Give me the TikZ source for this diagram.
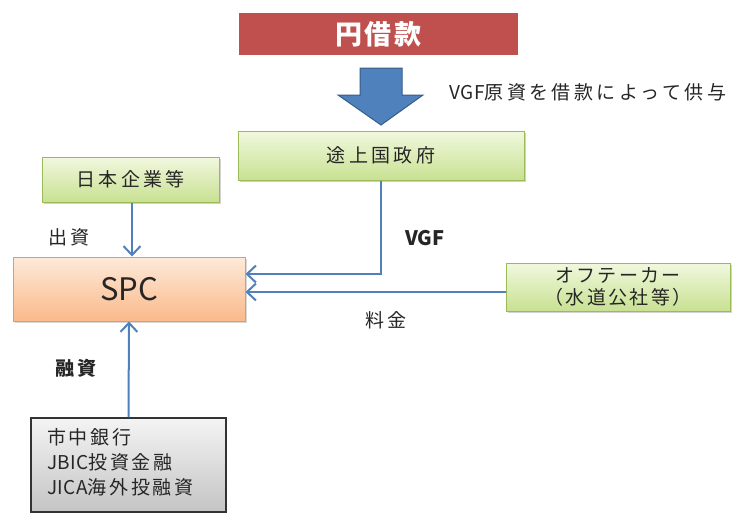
\documentclass[tikz,border=0pt]{standalone}
\usepackage{fontspec}
\setmainfont{Noto Sans CJK JP}
\usetikzlibrary{arrows.meta,shadows,calc}
\newcommand{\latn}[1]{{\addfontfeatures{LetterSpace=2}#1}}
\definecolor{lineblue}{HTML}{4F81BD}
\definecolor{arrowedge}{HTML}{385D8A}
\definecolor{loanred}{HTML}{C0504D}
\definecolor{greentop}{HTML}{F1F8DE}
\definecolor{greenbot}{HTML}{C8E192}
\definecolor{greenedge}{HTML}{9BBB59}
\definecolor{orangetop}{HTML}{FDEADA}
\definecolor{orangebot}{HTML}{FAB98A}
\definecolor{orangeedge}{HTML}{F79646}
\definecolor{graytop}{HTML}{F4F4F4}
\definecolor{graybot}{HTML}{C4C4C4}
\definecolor{txt}{HTML}{262626}
\begin{document}
\begin{tikzpicture}[x=1pt,y=-1pt,
  every node/.style={text=txt},
  basefont/.style={font=\fontsize{19}{23}\selectfont\addfontfeatures{LetterSpace=18}},
  greenbox/.style={draw=greenedge, line width=1pt, top color=greentop, bottom color=greenbot,
    drop shadow={shadow xshift=1.5pt, shadow yshift=-1.5pt, opacity=0.35}, basefont, inner sep=0pt},
  flow/.style={draw=lineblue, line width=2pt, -{Straight Barb[length=9pt,width=17pt,line width=2pt]}},
  lbl/.style={basefont}
]
\useasboundingbox (0,0) rectangle (747,514);
\fill[white] (0,0) rectangle (747,514);

% loan box
\node[draw=white, line width=5pt, fill=loanred, minimum width=284pt, minimum height=47pt,
  drop shadow={shadow xshift=1.5pt, shadow yshift=-2pt, opacity=0.3},
  text=white, font=\fontsize{27}{30}\selectfont\bfseries\addfontfeatures{LetterSpace=8}] (loan) at (378.5,34) {円借款};

% big arrow
\filldraw[fill=lineblue, draw=arrowedge, line width=1pt]
  (360,68) -- (402,68) -- (402,95) -- (423,95) -- (381,125) -- (338,95) -- (360,95) -- cycle;

\node[lbl, anchor=west] (vgfsrc) at (446,92) {\latn{VGF}原資を借款によって供与};

% boxes
\node[greenbox, minimum width=286pt, minimum height=49pt] (gov) at (381,155.5) {途上国政府};
\node[greenbox, minimum width=177pt, minimum height=45pt] (jp) at (130.5,179.5) {日本企業等};
\node[draw=orangeedge, line width=1pt, top color=orangetop, bottom color=orangebot,
  drop shadow={shadow xshift=1.5pt, shadow yshift=-1.5pt, opacity=0.3},
  minimum width=232pt, minimum height=64pt, font=\fontsize{31}{34}\selectfont] (spc) at (129,289) {SPC};
\node[greenbox, minimum width=224pt, minimum height=48pt, align=center,
  font=\fontsize{19}{22}\selectfont\addfontfeatures{LetterSpace=12}] (off) at (618,287) {オフテーカー\\（水道公社等）};
\node[draw=black!80, line width=1.2pt, top color=graytop, bottom color=graybot,
  minimum width=195pt, minimum height=94pt, inner sep=0pt] (bank) at (128.5,465) {};
\node[anchor=north west, align=left, inner sep=0pt,
  font=\fontsize{19}{25}\selectfont\addfontfeatures{LetterSpace=14}] (banktext) at (47,428)
  {市中銀行\\\latn{JBIC}投資金融\\\latn{JICA}海外投融資};

% connectors
\coordinate (vgfend) at ($(spc.east)+(0,-15)$);
\coordinate (feeend) at ($(spc.east)+(0,3)$);
\draw[flow] (jp.south -| 132,0) -- (spc.north -| 132,0);
\draw[flow] (gov.south) |- (vgfend);
\draw[flow] (off.west |- feeend) -- (feeend);
\draw[flow] (bank.north) -- (spc.south);

% labels
\node[lbl] (l1) at (69,237) {出資};
\node[font=\fontsize{20}{24}\selectfont\bfseries] (l2) at (425,238) {VGF};
\node[lbl] (l3) at (386,320) {料金};
\node[font=\fontsize{19}{23}\selectfont\bfseries\addfontfeatures{LetterSpace=18}] (l4) at (76,368) {融資};
\end{tikzpicture}
\end{document}
